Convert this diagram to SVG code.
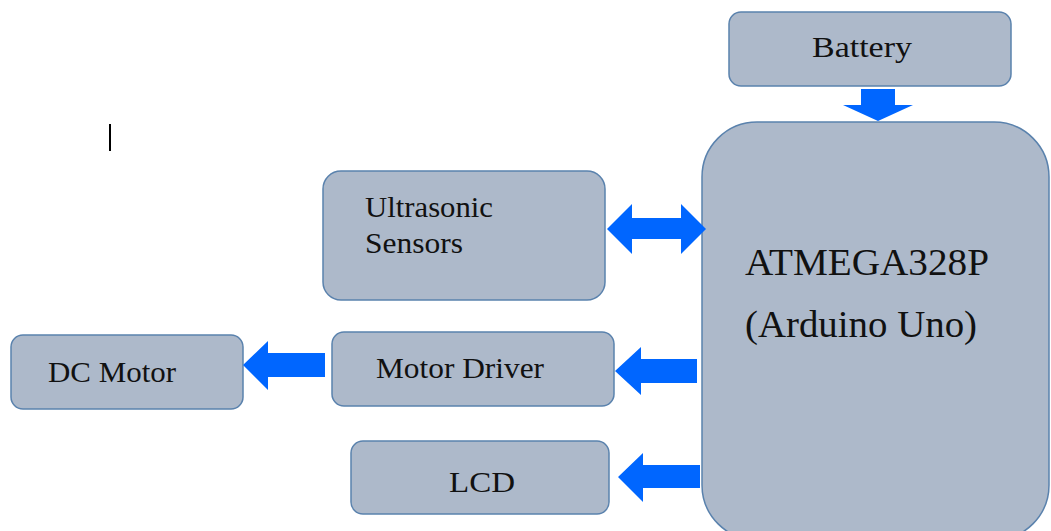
<svg xmlns="http://www.w3.org/2000/svg" width="1051" height="531" viewBox="0 0 1051 531">
<style>
.box{fill:#adb9ca;stroke:#5a82ad;stroke-width:1.5}
.t{font-size:30px;fill:#111}
.big{font-size:38px}
.arr{fill:#0066ff}
</style>
<rect width="1051" height="531" fill="#ffffff"/>
<line x1="110" y1="124" x2="110" y2="151" stroke="#000" stroke-width="2"/>
<g font-family="'Liberation Serif', 'DejaVu Serif', serif">
<g id="battery"><rect class="box" x="729" y="12" width="282" height="74" rx="12"/><text class="t" x="812" y="57" textLength="100" lengthAdjust="spacingAndGlyphs">Battery</text></g>
<g id="atmega"><rect class="box" x="702" y="122" width="347" height="418" rx="55"/><text class="t big" x="745" y="275" textLength="244" lengthAdjust="spacingAndGlyphs">ATMEGA328P</text><text class="t big" x="745" y="337" textLength="232" lengthAdjust="spacingAndGlyphs">(Arduino Uno)</text></g>
<g id="ultrasonic"><rect class="box" x="323" y="171" width="282" height="129" rx="18"/><text class="t" x="365" y="217" textLength="128" lengthAdjust="spacingAndGlyphs">Ultrasonic</text><text class="t" x="365" y="253" textLength="98" lengthAdjust="spacingAndGlyphs">Sensors</text></g>
<g id="motordriver"><rect class="box" x="332" y="332" width="282" height="74" rx="12"/><text class="t" x="376" y="378" textLength="168" lengthAdjust="spacingAndGlyphs">Motor Driver</text></g>
<g id="lcd"><rect class="box" x="351" y="441" width="258" height="73" rx="12"/><text class="t" x="449" y="492" textLength="66" lengthAdjust="spacingAndGlyphs">LCD</text></g>
<g id="dcmotor"><rect class="box" x="11" y="335" width="232" height="74" rx="12"/><text class="t" x="48" y="382" textLength="128" lengthAdjust="spacingAndGlyphs">DC Motor</text></g>
</g>
<g id="connectors">
<polygon class="arr" points="861,89 895,89 895,105 913,105 878,121 843,105 861,105"/>
<polygon class="arr" points="607,229 632,204 632,218 681,218 681,204 706,229 681,254 681,239 632,239 632,254"/>
<polygon class="arr" points="615,371 641,347 641,359 697,359 697,383 641,383 641,395"/>
<polygon class="arr" points="618,477 643,453 643,465 700,465 700,488 643,488 643,502"/>
<polygon class="arr" points="243,365 268,341 268,353 325,353 325,377 268,377 268,390"/>
</g>
</svg>
